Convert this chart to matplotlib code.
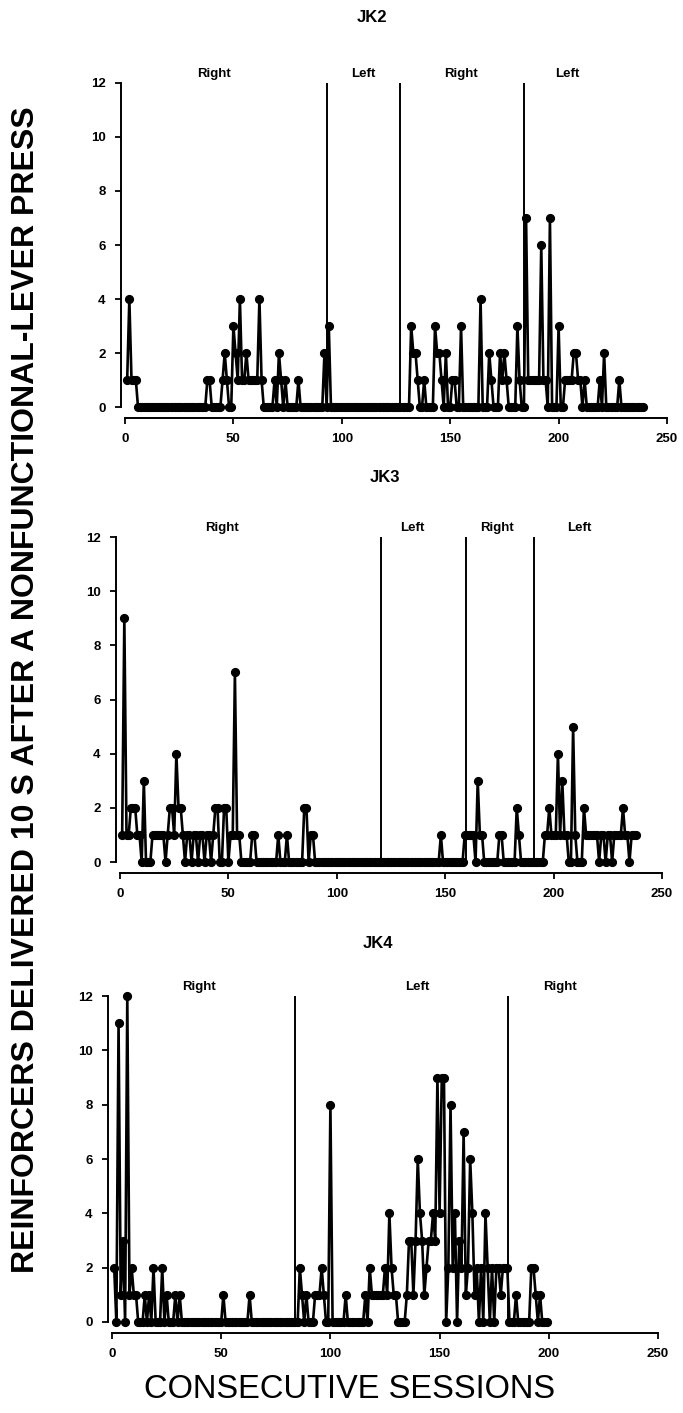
import numpy as np
import matplotlib
matplotlib.use('Agg')
import matplotlib.pyplot as plt

plt.rcParams['font.family'] = ['Liberation Sans', 'DejaVu Sans']

# reinforcers per session (sessions start at 1)
jk2_values = [
    1, 4, 1, 1, 1, 0, 0, 0, 0, 0, 0, 0, 0, 0, 0, 0, 0, 0, 0, 0,
    0, 0, 0, 0, 0, 0, 0, 0, 0, 0, 0, 0, 0, 0, 0, 0, 0, 1, 1, 0,
    0, 0, 0, 0, 1, 2, 1, 0, 0, 3, 2, 1, 4, 1, 1, 2, 1, 1, 1, 1,
    1, 4, 1, 0, 0, 0, 0, 0, 1, 0, 2, 1, 0, 1, 0, 0, 0, 0, 0, 1,
    0, 0, 0, 0, 0, 0, 0, 0, 0, 0, 0, 2, 0, 3, 0, 0, 0, 0, 0, 0,
    0, 0, 0, 0, 0, 0, 0, 0, 0, 0, 0, 0, 0, 0, 0, 0, 0, 0, 0, 0,
    0, 0, 0, 0, 0, 0, 0, 0, 0, 0, 0, 3, 2, 2, 1, 0, 0, 1, 0, 0,
    0, 0, 3, 2, 2, 1, 0, 2, 0, 0, 1, 1, 0, 0, 3, 0, 0, 0, 0, 0,
    0, 0, 0, 4, 0, 0, 0, 2, 1, 0, 0, 0, 2, 1, 2, 1, 0, 0, 0, 0,
    3, 1, 0, 0, 7, 1, 1, 1, 1, 1, 1, 6, 1, 1, 0, 7, 0, 0, 0, 3,
    0, 0, 1, 1, 1, 1, 2, 2, 1, 1, 0, 1, 0, 0, 0, 0, 0, 0, 1, 0,
    2, 0, 0, 0, 0, 0, 0, 1, 0, 0, 0, 0, 0, 0, 0, 0, 0, 0, 0]

jk3_values = [
    1, 9, 1, 1, 2, 2, 2, 1, 1, 0, 3, 0, 0, 0, 1, 1, 1, 1, 1, 1,
    0, 1, 2, 2, 1, 4, 2, 2, 1, 0, 1, 1, 0, 1, 1, 0, 1, 1, 0, 1,
    1, 0, 1, 2, 2, 0, 0, 2, 2, 0, 1, 1, 7, 1, 1, 0, 0, 0, 0, 0,
    1, 1, 0, 0, 0, 0, 0, 0, 0, 0, 0, 0, 1, 0, 0, 0, 1, 0, 0, 0,
    0, 0, 0, 0, 2, 2, 0, 1, 1, 0, 0, 0, 0, 0, 0, 0, 0, 0, 0, 0,
    0, 0, 0, 0, 0, 0, 0, 0, 0, 0, 0, 0, 0, 0, 0, 0, 0, 0, 0, 0,
    0, 0, 0, 0, 0, 0, 0, 0, 0, 0, 0, 0, 0, 0, 0, 0, 0, 0, 0, 0,
    0, 0, 0, 0, 0, 0, 0, 1, 0, 0, 0, 0, 0, 0, 0, 0, 0, 0, 1, 1,
    1, 1, 1, 0, 3, 1, 1, 0, 0, 0, 0, 0, 0, 0, 1, 1, 0, 0, 0, 0,
    0, 0, 2, 1, 0, 0, 0, 0, 0, 0, 0, 0, 0, 0, 0, 1, 1, 2, 1, 1,
    1, 4, 1, 3, 1, 1, 0, 0, 5, 1, 0, 0, 0, 2, 1, 1, 1, 1, 1, 1,
    0, 1, 1, 0, 1, 1, 0, 1, 1, 1, 1, 2, 1, 1, 0, 1, 1, 1]

jk4_values = [
    2, 0, 11, 1, 3, 0, 12, 1, 2, 1, 1, 0, 0, 0, 1, 0, 1, 0, 2, 0,
    0, 0, 2, 0, 1, 0, 0, 0, 1, 0, 1, 0, 0, 0, 0, 0, 0, 0, 0, 0,
    0, 0, 0, 0, 0, 0, 0, 0, 0, 0, 1, 0, 0, 0, 0, 0, 0, 0, 0, 0,
    0, 0, 1, 0, 0, 0, 0, 0, 0, 0, 0, 0, 0, 0, 0, 0, 0, 0, 0, 0,
    0, 0, 0, 0, 0, 2, 1, 0, 1, 0, 0, 0, 1, 1, 1, 2, 1, 0, 0, 8,
    0, 0, 0, 0, 0, 0, 1, 0, 0, 0, 0, 0, 0, 0, 0, 1, 0, 2, 1, 1,
    1, 1, 1, 1, 2, 1, 4, 2, 1, 1, 0, 0, 0, 0, 1, 3, 3, 1, 3, 6,
    4, 3, 1, 2, 3, 3, 4, 3, 9, 4, 9, 9, 0, 2, 8, 2, 4, 0, 3, 2,
    7, 1, 2, 6, 4, 1, 2, 0, 2, 0, 4, 2, 0, 2, 0, 2, 2, 1, 2, 2,
    2, 0, 0, 0, 1, 0, 0, 0, 0, 0, 0, 2, 2, 1, 0, 1, 0, 0, 0]

# condition changes and labels
jk2_phase_lines = [93, 127, 184]
jk2_phase_names = ['Right', 'Left', 'Right', 'Left']
jk2_name_pos = [41, 110, 155, 204]

jk3_phase_lines = [120.5, 159.5, 191]
jk3_phase_names = ['Right', 'Left', 'Right', 'Left']
jk3_name_pos = [47, 135, 174, 212]

jk4_phase_lines = [84, 181.5]
jk4_phase_names = ['Right', 'Left', 'Right']
jk4_name_pos = [40, 140, 205]

x_ticks = [0, 50, 100, 150, 200, 250]
y_ticks = [0, 2, 4, 6, 8, 10, 12]

W, H = 683, 1413
fig = plt.figure(figsize=(W / 100, H / 100), dpi=100)


def box(x0, x1, y_top, y_bot):
    return [x0 / W, 1 - y_bot / H, (x1 - x0) / W, (y_bot - y_top) / H]


def panel(rect, values, lines, names, name_pos, title, title_xy):
    ax = fig.add_axes(rect)
    sessions = np.arange(1, len(values) + 1)
    ax.plot(sessions, values, color='black', lw=1.9, marker='o', ms=5.6,
            mfc='black', mec='black', clip_on=False)
    for xl in lines:
        ax.plot([xl, xl], [0, 12], color='black', lw=1.4)
    for nm, xp in zip(names, name_pos):
        ax.text(xp, 12.1, nm, ha='center', va='bottom', fontsize=9.5,
                fontweight='bold')
    ax.set_xlim(0, 250)
    ax.set_ylim(0, 12)
    ax.set_xticks(x_ticks)
    ax.set_yticks(y_ticks)
    ax.spines['top'].set_visible(False)
    ax.spines['right'].set_visible(False)
    ax.spines['bottom'].set_position(('outward', 8))
    ax.spines['left'].set_position(('outward', 3))
    ax.spines['bottom'].set_linewidth(1.4)
    ax.spines['left'].set_linewidth(1.4)
    ax.tick_params(direction='out', length=4, width=1.3, labelsize=9.5, pad=7)
    for lab in ax.get_xticklabels() + ax.get_yticklabels():
        lab.set_fontweight('bold')
    fig.text(title_xy[0] / W, 1 - title_xy[1] / H, title, ha='center',
             va='center', fontsize=12, fontweight='bold')
    return ax


panel(box(125, 667, 83, 407), jk2_values, jk2_phase_lines, jk2_phase_names,
      jk2_name_pos, 'JK2', (372, 17))
panel(box(120, 662, 537, 862), jk3_values, jk3_phase_lines, jk3_phase_names,
      jk3_name_pos, 'JK3', (385, 478))
panel(box(112, 658, 996, 1322), jk4_values, jk4_phase_lines, jk4_phase_names,
      jk4_name_pos, 'JK4', (378, 943))

fig.text(26 / W, 1 - 690 / H,
         'REINFORCERS DELIVERED 10 S AFTER A NONFUNCTIONAL-LEVER PRESS',
         rotation=90, ha='center', va='center', fontsize=23, fontweight='bold')
fig.text(350 / W, 1 - 1389 / H, 'CONSECUTIVE SESSIONS', ha='center',
         va='center', fontsize=23.5)

fig.savefig('out.png', dpi=100)
